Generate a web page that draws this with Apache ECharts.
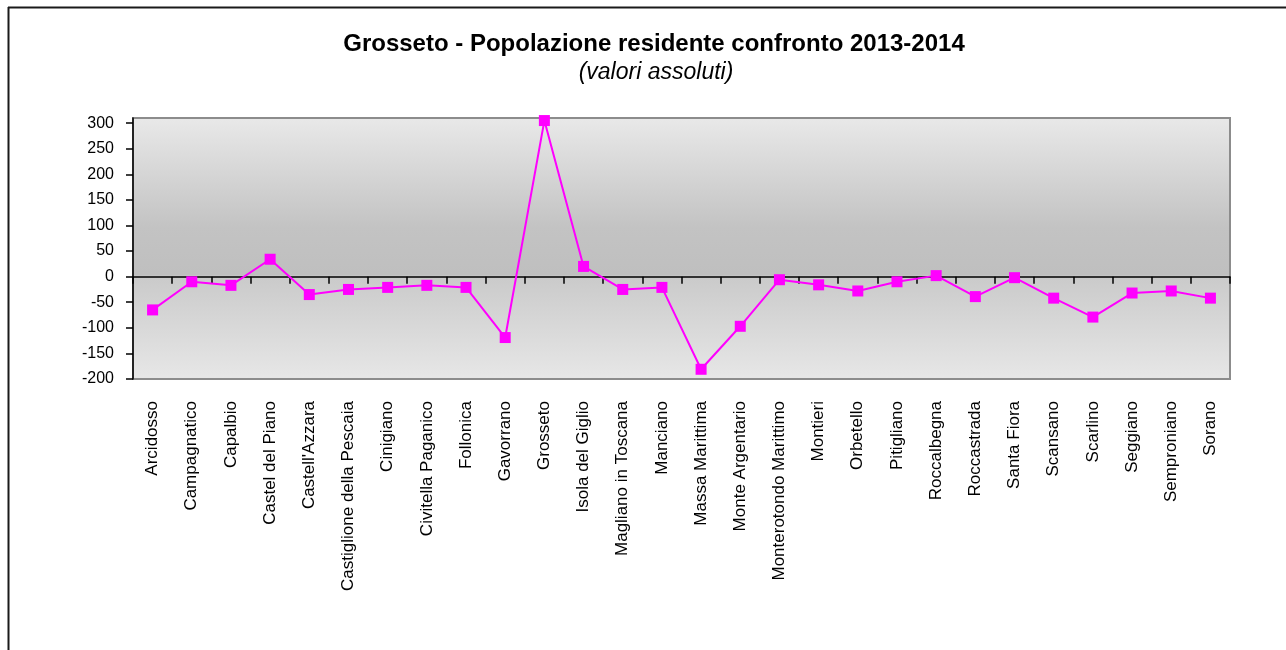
<!DOCTYPE html>
<html>
<head>
<meta charset="utf-8">
<script src="https://cdn.jsdelivr.net/npm/echarts@6/dist/echarts.min.js"></script>
<style>
html,body{margin:0;padding:0;background:#fff;}
#chart{width:1286px;height:650px;}
</style>
</head>
<body>
<div id="chart"></div>
<script>
const categories = ["Arcidosso","Campagnatico","Capalbio","Castel del Piano","Castell'Azzara","Castiglione della Pescaia","Cinigiano","Civitella Paganico","Follonica","Gavorrano","Grosseto","Isola del Giglio","Magliano in Toscana","Manciano","Massa Marittima","Monte Argentario","Monterotondo Marittimo","Montieri","Orbetello","Pitigliano","Roccalbegna","Roccastrada","Santa Fiora","Scansano","Scarlino","Seggiano","Semproniano","Sorano"];
const differenza = [-65,-10,-17,34,-35,-25,-21,-17,-21,-119,305,20,-25,-21,-181,-97,-6,-16,-28,-10,2,-39,-2,-42,-79,-32,-28,-42];
const titleText = "Grosseto - Popolazione residente confronto 2013-2014";
const subtitleText = "(valori assoluti)";
const yMin = -200, yMax = 310, yStep = 50;

const chart = echarts.init(document.getElementById('chart'), null, {renderer:'canvas'});
const font = 'Liberation Sans, Arial, Helvetica, sans-serif';
chart.setOption({
  animation:false,
  backgroundColor:'#ffffff',
  graphic:[
    {type:'line', shape:{x1:8,y1:7.5,x2:1286,y2:7.5}, style:{stroke:'#1a1a1a',lineWidth:2}},
    {type:'line', shape:{x1:8.5,y1:7,x2:8.5,y2:650}, style:{stroke:'#1a1a1a',lineWidth:2}},
    {type:'text', x:654, y:44, style:{text:titleText, fontFamily:font, fontWeight:'bold', fontSize:24, fill:'#000', textAlign:'center', textVerticalAlign:'middle'}},
    {type:'text', x:656, y:73, style:{text:subtitleText, fontFamily:font, fontStyle:'italic', fontSize:23, fill:'#000', textAlign:'center', textVerticalAlign:'middle'}}
  ],
  grid:{
    left:133, top:118, width:1097, height:261,
    show:true, borderColor:'#8c8c8c', borderWidth:2,
    backgroundColor:{type:'linear',x:0,y:0,x2:0,y2:1,colorStops:[
      {offset:0,color:'#e9e9e9'},
      {offset:0.42,color:'#c3c3c3'},
      {offset:0.6,color:'#bfbfbf'},
      {offset:0.605,color:'#cacaca'},
      {offset:1,color:'#e7e7e7'}
    ]}
  },
  xAxis:[
    {type:'category', data:categories, boundaryGap:true,
     axisLine:{onZero:true, lineStyle:{color:'#000',width:1.5}},
     axisTick:{show:true, interval:0, inside:false, length:7, lineStyle:{color:'#000',width:1.5}},
     axisLabel:{show:false}, splitLine:{show:false}},
    {type:'category', data:categories, boundaryGap:true, position:'bottom',
     axisLine:{show:false, onZero:false}, axisTick:{show:false},
     axisLabel:{show:true, rotate:90, interval:0, margin:22, fontFamily:font, fontSize:17, color:'#000'},
     splitLine:{show:false}}
  ],
  yAxis:{
    type:'value', min:yMin, max:yMax, interval:yStep,
    axisLine:{show:true, lineStyle:{color:'#000',width:1.5}},
    axisTick:{show:true, inside:false, length:7, lineStyle:{color:'#000',width:1.5}},
    axisLabel:{show:true, showMaxLabel:false, margin:19, fontFamily:font, fontSize:16, color:'#000'},
    splitLine:{show:false}
  },
  series:[{
    type:'line', data:differenza, xAxisIndex:0,
    symbol:'rect', symbolSize:11,
    lineStyle:{color:'#ff00ff', width:2},
    itemStyle:{color:'#ff00ff'}
  }]
});
</script>
</body>
</html>
